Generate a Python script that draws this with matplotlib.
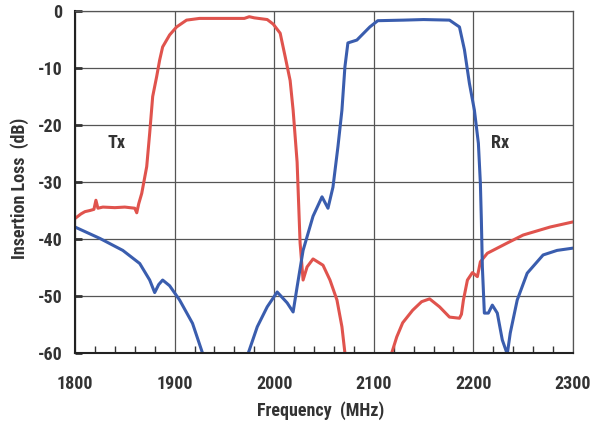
import matplotlib
matplotlib.use("Agg")
import matplotlib.pyplot as plt
from matplotlib import font_manager as fm
import numpy as np

# pick a condensed/narrow family if one is installed
cands = [f.name for f in fm.fontManager.ttflist
         if ('Narrow' in f.name or 'Condensed' in f.name
             or f.stretch in ('condensed', 'semi-condensed', 'extra-condensed'))]
fam = []
for pref in ['Liberation Sans Narrow', 'Roboto Condensed', 'Open Sans Condensed', 'DejaVu Sans Condensed']:
    if pref in cands:
        fam.append(pref)
fam += [c for c in cands if c not in fam]
fam += ['Liberation Sans', 'DejaVu Sans']
plt.rcParams['font.family'] = fam
plt.rcParams['axes.unicode_minus'] = False
narrow = len(fam) > 2
stretch = 'condensed'

# Tx (red) insertion loss
tx_freq = [1800, 1806, 1810, 1815, 1819, 1821, 1823, 1828, 1840, 1850, 1860, 1862, 1864, 1867,
           1872, 1875, 1878, 1882, 1885, 1888, 1895, 1902, 1912, 1925, 1950, 1970, 1975, 1980,
           1993, 1999, 2006, 2011, 2016, 2019, 2023, 2025, 2026, 2029, 2033, 2039, 2049, 2056,
           2063, 2068, 2071, 2073]
tx_db = [-36.4, -35.6, -35.2, -35.0, -34.8, -33.2, -34.6, -34.4, -34.5, -34.4, -34.6, -35.4, -33.8, -32.0,
         -27.3, -21.4, -15.0, -11.5, -8.6, -6.3, -4.2, -2.8, -1.6, -1.3, -1.3, -1.3, -1.0, -1.2,
         -1.5, -2.3, -3.9, -8.0, -12.2, -17.4, -26.5, -36.0, -40.7, -47.2, -44.9, -43.5, -44.6, -47.2,
         -50.7, -55.4, -60.0, -62.0]

tx2_freq = [2116, 2118, 2123, 2129, 2139, 2148, 2156, 2166, 2176, 2186, 2188, 2190, 2194, 2199,
            2204, 2207, 2214, 2234, 2250, 2277, 2300]
tx2_db = [-62.0, -60.0, -57.2, -54.7, -52.5, -51.0, -50.5, -51.9, -53.7, -53.9, -53.2, -50.7, -47.2, -45.9,
          -46.6, -44.0, -42.5, -40.7, -39.3, -37.9, -37.0]

# Rx (blue) insertion loss
rx_freq = [1800, 1825, 1848, 1865, 1875, 1880, 1884, 1888, 1895, 1905, 1918, 1928, 1930]
rx_db = [-37.9, -39.9, -42.0, -44.3, -47.2, -49.4, -48.0, -47.2, -48.2, -50.7, -54.8, -60.0, -62.0]

rx2_freq = [1972, 1974, 1983, 1993, 2003, 2013, 2019, 2023, 2029, 2039, 2048, 2054, 2059, 2064,
            2068, 2071, 2074, 2083, 2096, 2104, 2130, 2150, 2176, 2186, 2191, 2196, 2201, 2205,
            2207, 2208, 2209, 2211, 2215, 2219, 2224, 2229, 2234, 2237, 2244, 2254, 2270, 2284, 2300]
rx2_db = [-62.0, -60.0, -55.4, -51.9, -49.3, -51.2, -52.8, -48.4, -42.0, -36.0, -32.6, -34.6, -30.9, -23.8,
          -17.4, -9.8, -5.6, -5.1, -2.8, -1.7, -1.6, -1.5, -1.6, -2.8, -6.8, -12.7, -17.4, -23.2,
          -30.2, -36.7, -44.9, -53.0, -53.0, -51.6, -53.0, -57.7, -60.2, -56.5, -50.7, -46.0, -42.8, -42.0, -41.6]

x_ticks = [1800, 1900, 2000, 2100, 2200, 2300]
y_ticks = [0, -10, -20, -30, -40, -50, -60]

red = '#E0534D'
blue = '#3A5DAE'
txtc = '#333333'

fig = plt.figure(figsize=(5.91, 4.23), dpi=100)
ax = fig.add_axes([75/591, 1-353/423, (573-75)/591, (353-11)/423])

for fx, fy, c in [(tx_freq, tx_db, red), (tx2_freq, tx2_db, red),
                  (rx_freq, rx_db, blue), (rx2_freq, rx2_db, blue)]:
    ax.plot(fx, fy, color=c, lw=2.2, solid_joinstyle='round', solid_capstyle='round')

ax.set_xlim(1800, 2300)
ax.set_ylim(-60, 0)
ax.set_xticks(x_ticks)
ax.set_yticks(y_ticks)
ax.set_xticks(np.arange(1800, 2301, 20), minor=True)
ax.grid(True, which='major', color='#555555', lw=0.9)
ax.tick_params(axis='x', which='major', length=0, pad=16)
ax.tick_params(axis='x', which='minor', direction='in', length=5, width=1, color='#333333')
ax.tick_params(axis='y', which='major', direction='in', length=5, width=2, color='#333333', pad=9)

tfs = 13 if narrow else 11.5
for lab in ax.get_xticklabels() + ax.get_yticklabels():
    lab.set_fontsize(tfs)
    lab.set_fontweight('bold')
    lab.set_color(txtc)
    lab.set_fontstretch(stretch)

for s in ['top', 'right']:
    ax.spines[s].set_color('#555555')
    ax.spines[s].set_linewidth(0.9)
for s in ['left', 'bottom']:
    ax.spines[s].set_color('#222222')
    ax.spines[s].set_linewidth(1.5)

lfs = 13 if narrow else 11.5
fig.text(321/591, 1-411/423, 'Frequency  (MHz)', fontsize=lfs, fontweight='bold', color=txtc,
         ha='center', va='center', fontstretch=stretch)
fig.text(20/591, 1-188/423, 'Insertion Loss  (dB)', fontsize=lfs, fontweight='bold', color=txtc,
         ha='center', va='center', rotation=90, fontstretch=stretch)

ax.text(1842, -23.2, 'Tx', fontsize=lfs, fontweight='bold', color=txtc, ha='center', va='center',
        fontstretch=stretch)
ax.text(2227, -23.2, 'Rx', fontsize=lfs, fontweight='bold', color=txtc, ha='center', va='center',
        fontstretch=stretch)

fig.savefig('out.png', dpi=100)
